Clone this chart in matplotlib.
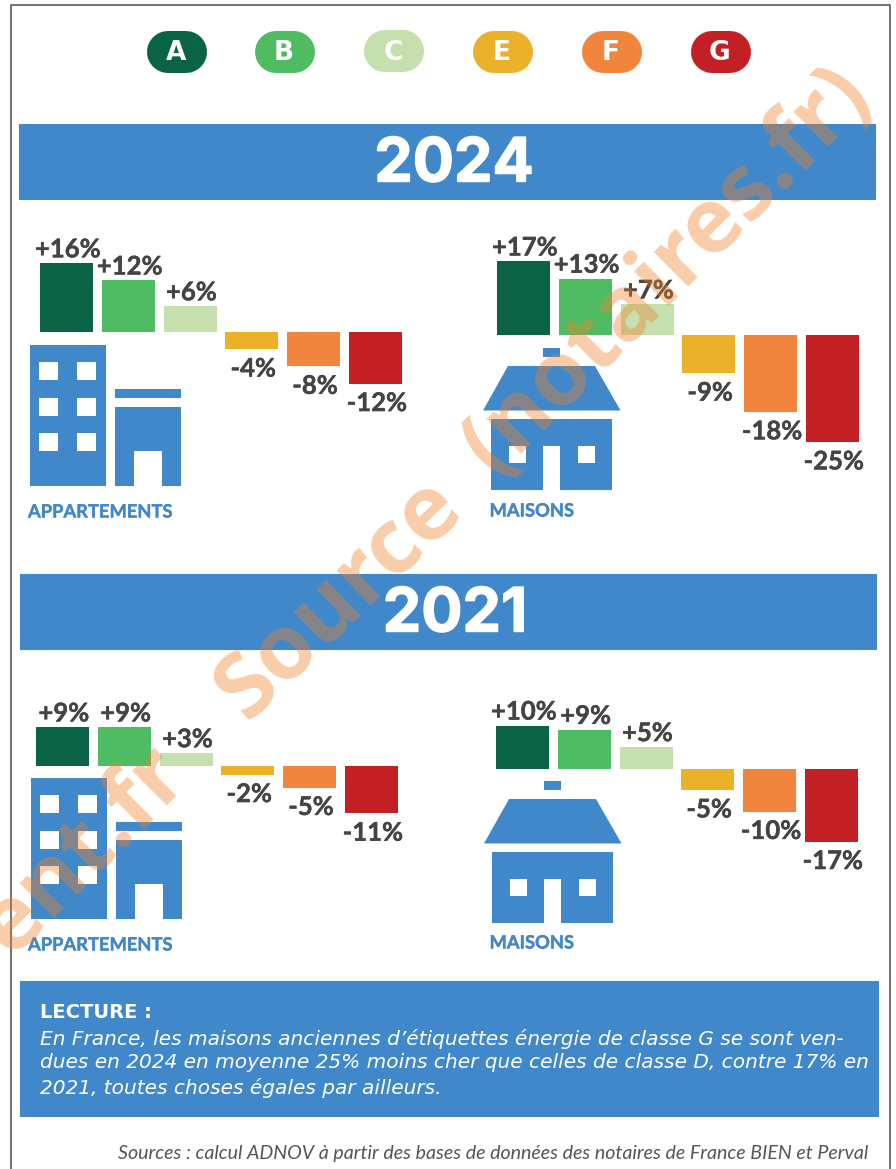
import matplotlib
matplotlib.use("Agg")
import matplotlib.pyplot as plt
import matplotlib.patheffects as pe
from matplotlib.patches import Rectangle, Polygon

W, H = 896, 1169

# classes and values
classes = ["A", "B", "C", "E", "F", "G"]
colors = ["#0A6344", "#4FBC63", "#C5E0AE", "#EBB128", "#F2853D", "#C32026"]
appart_2024 = [16, 12, 6, -4, -8, -12]
maisons_2024 = [17, 13, 7, -9, -18, -25]
appart_2021 = [9, 9, 3, -2, -5, -11]
maisons_2021 = [10, 9, 5, -5, -10, -17]

blue = "#4088C9"
grey_txt = "#444444"
PITCH = 61.8
PX_PER_PCT = 4.3

fig = plt.figure(figsize=(W / 100, H / 100), dpi=100, facecolor="white")

# background layer in pixel coordinates
bg = fig.add_axes([0, 0, 1, 1], zorder=0)
bg.set_xlim(0, W)
bg.set_ylim(H, 0)
bg.axis("off")


def box(x0, y0, x1, y1, color=blue):
    bg.add_patch(Rectangle((x0, y0), x1 - x0, y1 - y0, fc=color, ec="none"))


def building(dx, dy):
    box(30 + dx, 344.5 + dy, 106 + dx, 486 + dy)
    for wx in [39, 77]:
        for wy in [362, 397.5, 433]:
            box(wx + dx, wy + dy, wx + 19 + dx, wy + 18 + dy, "white")
    box(115 + dx, 389 + dy, 181 + dx, 398 + dy)
    box(115 + dx, 407 + dy, 181 + dx, 486 + dy)
    box(134 + dx, 451 + dy, 162 + dx, 486 + dy, "white")


def house(dx, dy):
    box(543 + dx, 348 + dy, 560 + dx, 357 + dy)
    bg.add_patch(Polygon([(508 + dx, 366 + dy), (595 + dx, 366 + dy), (620.5 + dx, 410.5 + dy),
                          (483 + dx, 410.5 + dy)], fc=blue, ec="none"))
    box(491 + dx, 419 + dy, 612 + dx, 490 + dy)
    box(508.5 + dx, 446 + dy, 526 + dx, 463 + dy, "white")
    box(577.5 + dx, 446 + dy, 595 + dx, 463 + dy, "white")
    box(543 + dx, 446 + dy, 560 + dx, 490 + dy, "white")


# frame
bg.plot([11, 11, 890, 890], [H, 5, 5, H], color="#666666", lw=1.3)

# legend pills, drawn as thick lines with round caps
pill_x = [147, 255, 364, 473, 582, 691]
pill_y = [52, 52, 51, 52, 52, 52]
for c, col, px, py in zip(classes, colors, pill_x, pill_y):
    bg.plot([px + 21, px + 39], [py, py], color=col, lw=42 * 0.72, solid_capstyle="round")
    bg.text(px + 29, py + 1.5, c, color="white", fontsize=19, fontweight="bold",
            family="DejaVu Sans", ha="center", va="center")

# year bands
box(19, 124, 876, 200)
box(20, 574, 877, 650)
heavy = [pe.withStroke(linewidth=1, foreground="white")]
bg.text(454, 165.5, "2024", color="white", fontsize=44, fontweight="bold", family="Inter",
        ha="center", va="center", path_effects=heavy)
bg.text(455, 615.5, "2021", color="white", fontsize=44, fontweight="bold", family="Inter",
        ha="center", va="center", path_effects=heavy)

building(0, 0)
building(0.5, 433)
house(0, 0)
house(1, 433)

thick = [pe.withStroke(linewidth=0.25, foreground=blue)]
for txt, tx, ty in [("APPARTEMENTS", 28, 512), ("MAISONS", 489.5, 511),
                    ("APPARTEMENTS", 28, 945), ("MAISONS", 489.5, 943)]:
    bg.text(tx, ty, txt, color=blue, fontsize=13.2, fontweight="bold", family="Lato", va="center",
            path_effects=thick)

# lecture block
box(20, 981, 879, 1117)
bg.text(40, 1012, "LECTURE :", color="white", fontsize=14, fontweight="bold", family="DejaVu Sans", va="center")
lecture = ["En France, les maisons anciennes d\u2019\u00e9tiquettes \u00e9nergie de classe G se sont ven-",
           "dues en 2024 en moyenne 25% moins cher que celles de classe D, contre 17% en",
           "2021, toutes choses \u00e9gales par ailleurs."]
for line, ly in zip(lecture, [1039, 1063, 1088]):
    bg.text(40, ly, line, color="white", fontsize=14.5, style="italic", family="DejaVu Sans", va="center")
bg.text(868, 1153, "Sources : calcul ADNOV \u00e0 partir des bases de donn\u00e9es des notaires de France BIEN et Perval",
        color="#555555", fontsize=14.1, style="italic", family="Lato", ha="right", va="center")


def panel(values, first_center, baseline):
    left = first_center - PITCH / 2
    top = baseline - 25 * PX_PER_PCT
    height = 60 * PX_PER_PCT
    ax = fig.add_axes([left / W, 1 - (top + height) / H, 6 * PITCH / W, height / H], zorder=1)
    ax.patch.set_alpha(0)
    ax.set_xlim(-0.5, 5.5)
    ax.set_ylim(-35, 25)
    ax.axis("off")
    bars = ax.bar(range(len(values)), values, width=53 / PITCH, color=colors)
    for b, v in zip(bars, values):
        off = 10 if v > 0 else -14
        ax.annotate(f"{v:+d}%", (b.get_x() + b.get_width() / 2, v), xytext=(1, off),
                    textcoords="offset points", ha="center", va="center",
                    fontsize=18.5, fontweight="bold", family="Lato", color=grey_txt,
                    path_effects=[pe.withStroke(linewidth=0.3, foreground=grey_txt)])


panel(appart_2024, 66.5, 332)
panel(maisons_2024, 523.5, 334.5)
panel(appart_2021, 62.5, 766)
panel(maisons_2021, 522.5, 768.5)

# watermark on top of everything, in three pieces to keep its word gaps
for txt, wx, wy, ang in [("(notaires.fr)", 668, 271, 45), ("Source", 340, 599, 44), ("ent.fr", 85, 851, 45)]:
    fig.text(wx / W, 1 - wy / H, txt, color="#F08228", alpha=0.4, fontsize=65, fontweight="bold",
             family="Open Sans", rotation=ang, rotation_mode="anchor", ha="center", va="center", zorder=10)

fig.savefig("out.png", dpi=100)
